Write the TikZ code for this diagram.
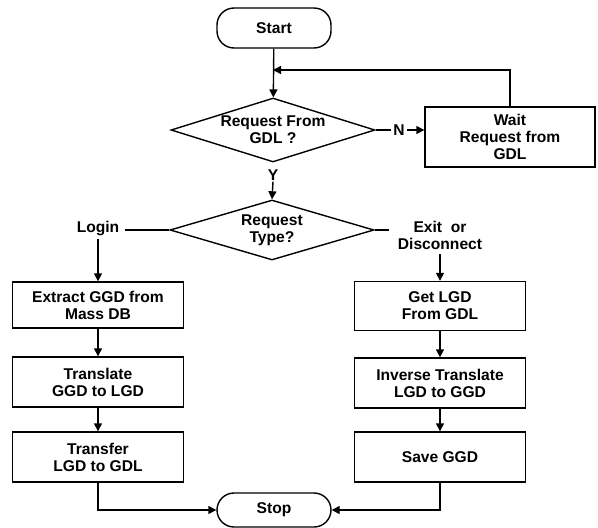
\documentclass[tikz,border=0pt]{standalone}
\usepackage{fontspec}
\setmainfont{Liberation Sans}
\usetikzlibrary{shapes.geometric,arrows.meta}
\begin{document}
\begin{tikzpicture}[x=1pt, y=-1pt,
  every node/.style={font=\bfseries\fontsize{15.6}{17}\selectfont, align=center},
  box/.style={draw, line width=1.4pt, rectangle, minimum width=171pt, inner sep=0pt},
  term/.style={draw, line width=1.4pt, rectangle, rounded corners=17pt, minimum width=114pt, inner sep=0pt},
  decision/.style={draw, line width=1.4pt, diamond, aspect=3.2, minimum width=204pt, inner sep=0pt},
  flow/.style={line width=1.4pt, -{Triangle[length=8pt,width=8pt]}},
  plain/.style={line width=1.4pt}]
\useasboundingbox (0,0) rectangle (598,528);
\node [term, minimum height=40pt] (start) at (274,28) {Start};
\node [decision, minimum height=64pt] (d1) at (273,130) {Request From\\GDL ?};
\node [inner xsep=2pt] (nlab) at (399,130) {N};
\node [box, minimum width=170pt, minimum height=60pt] (wait) at (510,137) {Wait\\Request from\\GDL};
\coordinate (back) at (273,70);
\node [inner sep=1pt] (ylab) at (273,175) {Y};
\node [decision, minimum height=60pt] (d2) at (272,230) {Request\\Type?};
\node [inner xsep=6pt, inner ysep=3pt] (login) at (98,228) {Login};
\node [inner xsep=9pt, inner ysep=5pt] (exit) at (440,235) {Exit~ or\\Disconnect};
\node [box, minimum height=46pt] (lb1) at (98,305) {Extract GGD from\\Mass DB};
\node [box, minimum height=50pt] (lb2) at (98,382) {Translate\\GGD to LGD};
\node [box, minimum height=50pt] (lb3) at (98,457) {Transfer\\LGD to GDL};
\node [box, minimum height=49pt] (rb1) at (440,306) {Get LGD\\From GDL};
\node [box, minimum height=50pt] (rb2) at (440,383) {Inverse Translate\\LGD to GGD};
\node [box, minimum height=50pt] (rb3) at (440,457) {Save GGD};
\node [term, minimum height=34pt] (stop) at (274,510) {Stop};
\draw [flow] (start) -- (d1);
\draw [flow] (wait.north) |- (back);
\draw [plain] (d1.east) -- (nlab.west);
\draw [flow] (nlab.east) -- (nlab.east -| wait.west);
\draw [flow] (ylab.south) -- (d2.north);
\draw [plain] (d2.west) -- (d2.west -| login.east);
\draw [plain] (d2.east) -- (d2.east -| exit.west);
\draw [flow] (login.south) -- (lb1.north);
\draw [flow] (exit.south) -- (rb1.north);
\draw [flow] (lb1) -- (lb2);
\draw [flow] (lb2) -- (lb3);
\draw [flow] (rb1) -- (rb2);
\draw [flow] (rb2) -- (rb3);
\draw [flow] (lb3.south) |- (stop.west);
\draw [flow] (rb3.south) |- (stop.east);
\end{tikzpicture}
\end{document}
